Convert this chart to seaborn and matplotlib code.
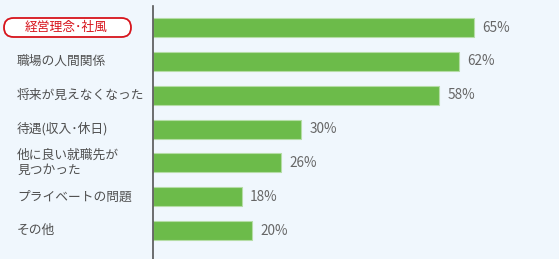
import matplotlib
matplotlib.use("Agg")
import matplotlib.pyplot as plt
from matplotlib.patches import FancyBboxPatch
from matplotlib.transforms import blended_transform_factory, IdentityTransform
import seaborn as sns
import pandas as pd

categories = ["経営理念･社風", "職場の人間関係", "将来が見えなくなった", "待遇(収入･休日)",
              "他に良い就職先が\n見つかった", "プライベートの問題", "その他"]
values = [65, 62, 58, 30, 26, 18, 20]
value_labels = ["65%", "62%", "58%", "30%", "26%", "18%", "20%"]

sns.set_theme(style="white")
plt.rcParams["font.family"] = ["Noto Sans CJK JP", "DejaVu Sans"]

BG = "#F0F7FD"
W, H = 559, 259
fig = plt.figure(figsize=(W / 100, H / 100), dpi=100, facecolor=BG)
ax = fig.add_axes([153 / W, 0, 1 - 153 / W, (H - 6) / H])
ax.set_facecolor(BG)

df = pd.DataFrame({"cat": categories, "val": values})
sns.barplot(data=df, x="val", y="cat", orient="h", color="#6CBB4A", saturation=1,
            width=0.56, edgecolor="#B5DDA6", linewidth=0.8, ax=ax)

ax.set_xlim(0, 82.2)
ax.set_ylim(6.84, -0.64)
ax.set_xlabel("")
ax.set_ylabel("")
ax.set_xticks([])
ax.set_yticks([])
for s in ["top", "right", "bottom"]:
    ax.spines[s].set_visible(False)
ax.spines["left"].set_color("#555555")
ax.spines["left"].set_linewidth(1.2)

ax.bar_label(ax.containers[0], labels=value_labels, padding=6, fontsize=9.8, color="#666666")

tr = blended_transform_factory(fig.transFigure, ax.transData)
for i, c in enumerate(categories):
    if i == 0:
        ax.text(66 / W, i, c, transform=tr, ha="center", va="center",
                fontsize=9.2, color="#D7141C", clip_on=False, zorder=5)
    else:
        ax.text(17 / W, i, c, transform=tr, ha="left", va="center",
                fontsize=9.2, color="#505050", linespacing=1.25, clip_on=False, zorder=5)

# rounded highlight box around the first label (pixel coordinates)
box = FancyBboxPatch((4, H - 37), 127, 19,
                     boxstyle="round,pad=0,rounding_size=9.5",
                     transform=IdentityTransform(), facecolor="white",
                     edgecolor="#D7141C", linewidth=1.3, zorder=4, clip_on=False)
ax.add_artist(box)

fig.savefig("out.png", dpi=100, facecolor=BG)
